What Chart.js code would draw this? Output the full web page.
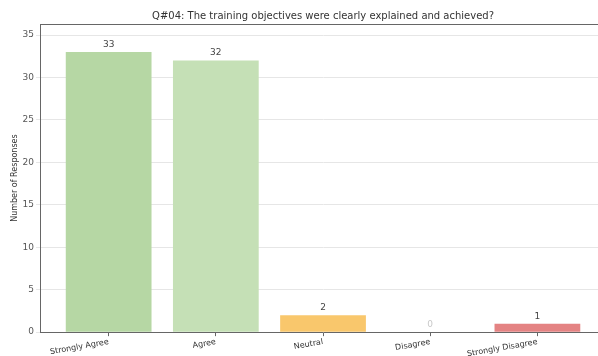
<!DOCTYPE html>
<html>
<head>
<meta charset="utf-8">
<script src="https://cdn.jsdelivr.net/npm/chart.js@4.4.1/dist/chart.umd.min.js"></script>
<style>
  html, body { margin: 0; padding: 0; background: #fff; overflow: hidden; }
  #wrap { width: 608px; height: 360px; }
</style>
</head>
<body>
<div id="wrap"><canvas id="myChart" width="608" height="360"></canvas></div>
<script>
var categories = ["Strongly Agree", "Agree", "Neutral", "Disagree", "Strongly Disagree"];
var responses = [33, 32, 2, 0, 1];
var barColors = ["#b6d7a4", "#c5e0b6", "#f9c76c", "#d9d9d9", "#e48383"];
var yTicks = [0, 5, 10, 15, 20, 25, 30, 35];
var yMax = 36.3;
var xMin = -0.64;
var xMax = 4.64;

var points = categories.map(function (c, i) { return { x: i, y: responses[i] }; });

var valueLabels = {
  id: "valueLabels",
  afterDatasetsDraw(chart) {
    var ctx = chart.ctx;
    var meta = chart.getDatasetMeta(0);
    ctx.save();
    ctx.font = "9px 'DejaVu Sans'";
    ctx.textAlign = "center";
    ctx.textBaseline = "bottom";
    meta.data.forEach(function (bar, i) {
      ctx.fillStyle = responses[i] === 0 ? "#c8c8c8" : "#444";
      ctx.fillText(responses[i], bar.x, bar.y - 3);
    });
    ctx.restore();
  }
};

var topSpine = {
  id: "topSpine",
  afterDraw(chart) {
    var a = chart.chartArea;
    var ctx = chart.ctx;
    ctx.save();
    ctx.strokeStyle = "#666";
    ctx.lineWidth = 1;
    ctx.beginPath();
    ctx.moveTo(a.left, a.top + 0.5);
    ctx.lineTo(a.right, a.top + 0.5);
    ctx.stroke();
    ctx.restore();
  }
};

new Chart(document.getElementById("myChart"), {
  type: "bar",
  data: {
    datasets: [{
      label: "Responses",
      data: points,
      backgroundColor: barColors,
      categoryPercentage: 1.0,
      barPercentage: 0.8
    }]
  },
  options: {
    responsive: false,
    animation: false,
    layout: { padding: { left: 10, right: 2, top: 2, bottom: 0 } },
    plugins: {
      legend: { display: false },
      tooltip: { enabled: false },
      title: {
        display: true,
        fullSize: false,
        text: "Q#04: The training objectives were clearly explained and achieved?",
        color: "#333",
        font: { family: "DejaVu Sans", size: 10, weight: "normal" },
        padding: { top: 8, bottom: 2 }
      }
    },
    scales: {
      x: {
        type: "linear",
        min: xMin,
        max: xMax,
        offset: false,
        afterBuildTicks: function (axis) {
          axis.ticks = categories.map(function (c, i) { return { value: i }; });
        },
        grid: { display: true, offset: false, drawOnChartArea: false, tickLength: 4, color: "#666" },
        border: { color: "#666" },
        ticks: {
          color: "#333",
          font: { family: "DejaVu Sans", size: 8 },
          minRotation: 10,
          maxRotation: 10,
          padding: 1,
          callback: function (v) { return categories[v]; }
        }
      },
      y: {
        min: 0,
        max: yMax,
        afterBuildTicks: function (axis) {
          axis.ticks = yTicks.map(function (v) { return { value: v }; });
        },
        grid: { color: "#e6e6e6", tickLength: 4 },
        border: { color: "#666" },
        ticks: {
          color: "#555",
          font: { family: "DejaVu Sans", size: 9 },
          padding: 2
        },
        title: {
          display: true,
          text: "Number of Responses",
          color: "#333",
          font: { family: "DejaVu Sans", size: 8 },
          padding: { top: 0, bottom: 1 }
        }
      }
    }
  },
  plugins: [valueLabels, topSpine]
});
</script>
</body>
</html>
